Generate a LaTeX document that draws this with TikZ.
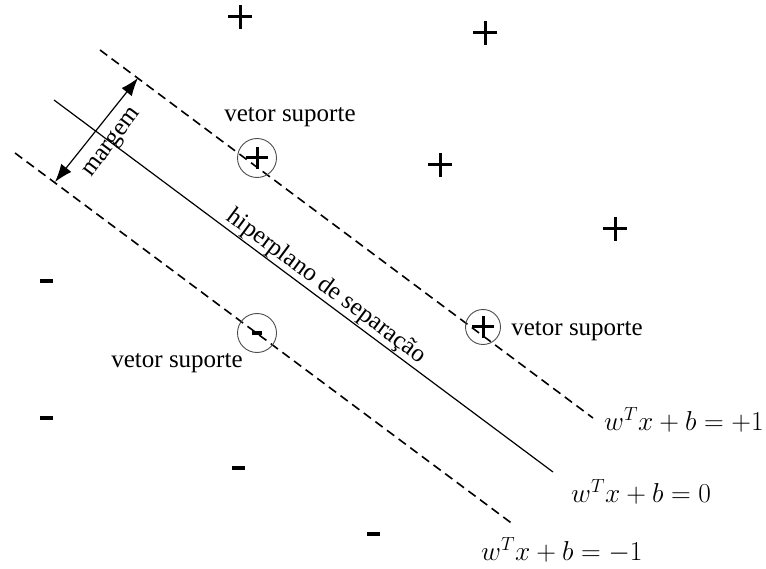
\documentclass[tikz,border=0pt]{standalone}
\usepackage{fontspec}
\setmainfont{Liberation Serif}
\usetikzlibrary{arrows.meta}
\newcommand{\eqtext}[1]{\scalebox{1.1}{$#1$}}
\begin{document}
\begin{tikzpicture}[x=1pt,y=-1pt,
  lbl/.style={font=\fontsize{25}{30}\selectfont, inner sep=0pt},
  eqlbl/.style={font=\fontsize{25}{30}\selectfont, inner sep=0pt, anchor=west},
  plussign/.style={minimum size=#1, inner sep=0pt, path picture={\draw[line width=3pt]
     (path picture bounding box.north) -- (path picture bounding box.south)
     (path picture bounding box.west) -- (path picture bounding box.east);}},
  plussign/.default=24pt,
  minussign/.style={rectangle, fill=black, minimum width=#1, minimum height=4.5pt, inner sep=0pt},
  minussign/.default=13pt,
  svcircle/.style={circle, draw=black!70, line width=0.9pt, minimum size=#1, inner sep=0pt},
  svcircle/.default=39pt,
  marginline/.style={line width=1.6pt, dash pattern=on 9pt off 5.5pt},
  sepline/.style={line width=1.2pt}
]
\useasboundingbox (0,0) rectangle (766,569);

% lines
\coordinate (u1) at (100,50);  \coordinate (u2) at (593,418);
\coordinate (s1) at (54,100);  \coordinate (s2) at (553,472);
\coordinate (l1) at (15,153);  \coordinate (l2) at (514,525);
\draw[marginline] (u1) -- (u2);
\draw[marginline] (l1) -- (l2);
\draw[sepline] (s1) -- (s2) node[pos=0.53, sloped, above=1pt, lbl] (hip) {hiperplano de separação};

% margin arrow
\coordinate (m1) at (55,182); \coordinate (m2) at (138,78);
\draw[line width=1.2pt, {Latex[length=18pt,width=13pt]}-{Latex[length=18pt,width=13pt]}] (m1) -- (m2);
\node[lbl, rotate=53] (margem) at (113,143) {margem};

% plus points
\node[plussign] (p1) at (240,17) {};
\node[plussign] (p2) at (485,33) {};
\node[plussign] (p3) at (440,165) {};
\node[plussign] (p4) at (615,229) {};

% minus points
\node[minussign] (n1) at (46,281) {};
\node[minussign] (n2) at (46,418) {};
\node[minussign] (n3) at (238,468) {};
\node[minussign] (n4) at (373,534) {};

% support vectors
\node[svcircle] (sv1) at (257,158) {};
\node[plussign=22pt] (sv1p) at (sv1) {};
\node[svcircle=35pt] (sv2) at (483,327) {};
\node[plussign=22pt] (sv2p) at (sv2) {};
\node[svcircle] (sv3) at (257,333) {};
\node[minussign=10pt] (sv3m) at (sv3) {};

\node[lbl] (t1) at (290,117) {vetor suporte};
\node[lbl] (t2) at (577,331) {vetor suporte};
\node[lbl] (t3) at (177,363) {vetor suporte};

% equations
\node[eqlbl] (e1) at (604,420) {\eqtext{w^T x + b = +1}};
\node[eqlbl] (e2) at (571,492) {\eqtext{w^T x + b = 0}};
\node[eqlbl] (e3) at (481,550) {\eqtext{w^T x + b = -1}};
\end{tikzpicture}
\end{document}
